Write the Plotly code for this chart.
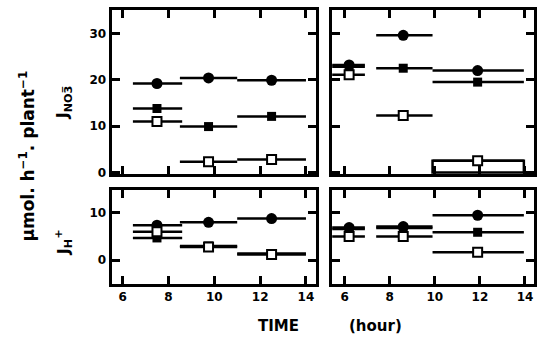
import plotly.graph_objects as go

W, H = 537, 343

# ---- data ----
# left column (first experiment)
t_mid_L = [7.5, 9.75, 12.5]
t_start_L = [6.45, 8.5, 11.0]
t_end_L = [8.6, 11.0, 14.0]
# right column (second experiment)
t_mid_R = [6.2, 8.6, 11.9]
t_start_R = [5.45, 7.4, 9.9]
t_end_R = [6.9, 9.9, 13.95]

no3_circle_L = [19.2, 20.4, 19.9]
no3_fsq_L = [13.8, 9.9, 12.1]
no3_osq_L = [11.0, 2.3, 2.8]

no3_circle_R = [23.2, 29.6, 22.0]
no3_fsq_R = [22.8, 22.5, 19.5]
no3_osq_R = [21.1, 12.3, 2.5]

h_circle_L = [7.4, 8.0, 8.8]
h_fsq_L = [4.7, 3.0, 1.4]
h_osq_L = [6.0, 2.8, 1.2]

h_circle_R = [6.9, 7.1, 9.5]
h_fsq_R = [6.6, 6.8, 5.9]
h_osq_R = [5.0, 5.0, 1.7]

x_ticks = [6, 8, 10, 12, 14]
no3_ticks = [0, 10, 20, 30]
h_ticks = [0, 10]

fig = go.Figure()

def px_x(p):
    return p / W

def px_y(p):
    return 1 - p / H

def add_series(mid, start, end, vals, kind, xa, ya):
    minus = [m - s for m, s in zip(mid, start)]
    plus = [e - m for m, e in zip(mid, end)]
    if kind == "circle":
        marker = dict(symbol="circle", size=11, color="black")
    elif kind == "fsq":
        marker = dict(symbol="square", size=9, color="black")
    else:
        marker = dict(symbol="square", size=9, color="white",
                      line=dict(color="black", width=2))
    fig.add_trace(go.Scatter(
        x=mid, y=vals, mode="markers", marker=marker,
        error_x=dict(type="data", symmetric=False, array=plus, arrayminus=minus,
                     color="black", thickness=2.5, width=0),
        xaxis=xa, yaxis=ya, showlegend=False, cliponaxis=False))

# box outline under the last open-square interval (top right)
fig.add_trace(go.Bar(
    x=[(t_start_R[2] + t_end_R[2]) / 2], y=[no3_osq_R[2]],
    width=[t_end_R[2] - t_start_R[2]],
    marker=dict(color="white", line=dict(color="black", width=2.5)),
    xaxis="x2", yaxis="y2", showlegend=False))

panels = [
    (t_mid_L, t_start_L, t_end_L, no3_circle_L, no3_fsq_L, no3_osq_L, "x", "y"),
    (t_mid_R, t_start_R, t_end_R, no3_circle_R, no3_fsq_R, no3_osq_R, "x2", "y2"),
    (t_mid_L, t_start_L, t_end_L, h_circle_L, h_fsq_L, h_osq_L, "x3", "y3"),
    (t_mid_R, t_start_R, t_end_R, h_circle_R, h_fsq_R, h_osq_R, "x4", "y4"),
]
for mid, st, en, c, f, o, xa, ya in panels:
    add_series(mid, st, en, c, "circle", xa, ya)
    add_series(mid, st, en, f, "fsq", xa, ya)
    add_series(mid, st, en, o, "osq", xa, ya)

font = dict(family="DejaVu Sans", size=12, color="black", weight="bold")
common = dict(showline=True, mirror="ticks", linecolor="black", linewidth=3,
              ticks="inside", ticklen=8, tickwidth=2.5, tickcolor="black",
              showgrid=False, zeroline=False, tickfont=font)

xL = [5.52, 14.43]
xR = [5.43, 14.4]
dom_xL = [px_x(112), px_x(317)]
dom_xR = [px_x(333), px_x(536)]
dom_yT = [px_y(177), px_y(10)]
dom_yB = [px_y(288), px_y(193)]

fig.update_layout(
    width=W, height=H, margin=dict(l=0, r=0, t=0, b=0),
    plot_bgcolor="white", paper_bgcolor="white", barmode="overlay",
    xaxis=dict(domain=dom_xL, range=xL, anchor="y", tickvals=x_ticks, showticklabels=False, **common),
    yaxis=dict(domain=dom_yT, range=[-0.43, 35.1], anchor="x", tickvals=no3_ticks, **common),
    xaxis2=dict(domain=dom_xR, range=xR, anchor="y2", tickvals=x_ticks, showticklabels=False, **common),
    yaxis2=dict(domain=dom_yT, range=[-0.43, 35.1], anchor="x2", tickvals=no3_ticks, showticklabels=False, **common),
    xaxis3=dict(domain=dom_xL, range=xL, anchor="y3", tickvals=x_ticks, **common),
    yaxis3=dict(domain=dom_yB, range=[-5.0, 14.8], anchor="x3", tickvals=h_ticks, **common),
    xaxis4=dict(domain=dom_xR, range=xR, anchor="y4", tickvals=x_ticks, **common),
    yaxis4=dict(domain=dom_yB, range=[-5.0, 14.8], anchor="x4", tickvals=h_ticks, showticklabels=False, **common),
)

ann_font = dict(family="DejaVu Sans", size=16, color="black", weight="bold")
def note(x, y, text, size, angle=0):
    fig.add_annotation(x=px_x(x), y=px_y(y), xref="paper", yref="paper",
                       xanchor="center", yanchor="middle", text=text, textangle=angle,
                       showarrow=False,
                       font=dict(family="DejaVu Sans", size=size, color="black", weight="bold"))

note(27, 158, "μmol. h<sup>−1</sup>. plant<sup>−1</sup>", 17, -90)
note(64, 104, "J<sub>NO3\u0305</sub>", 16, -90)
note(64, 246, "J<sub>H</sub><sup>+</sup>", 16, -90)
note(280, 331, "TIME", 15)
note(377, 331, "(hour)", 15)

fig.write_html("out.html",
               config=dict(displayModeBar=False, responsive=False),
               post_script="document.body.style.margin='0';document.body.style.overflow='hidden';document.documentElement.style.overflow='hidden';")
